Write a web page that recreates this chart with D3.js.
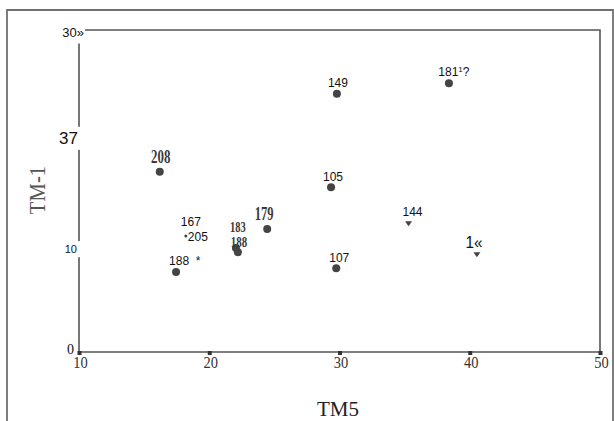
<!DOCTYPE html>
<html><head><meta charset="utf-8">
<script src="https://cdn.jsdelivr.net/npm/d3@7"></script>
<style>html,body{margin:0;padding:0;background:#fff;}svg{display:block;}</style>
</head><body>
<script>
// ---- data ----
const pointIds   = ["208","149","181","105","144","1«","107","179","183","188b","205","188"];
const tm5Values  = [16.2, 29.8, 38.4, 29.35, 35.3, 40.55, 29.75, 24.45, 22.05, 22.2, 18.2, 17.45];
const tm1Values  = [16.8, 24.05, 25.05, 15.35, 12.0, 9.1, 7.8, 11.45, 9.7, 9.3, 10.8, 7.45];
const markerType = ["circle","circle","circle","circle","triangle","triangle","circle","circle","circle","circle","dot","circle"];
const xTickValues = [10, 20, 30, 40, 50];
const xTickLabels = ["10","20","30","40","50"];
const yTickValues = [0, 10, 20, 30];
const yTickLabels = ["0","10","37","30»"];
const xTitle = "TM5";
const yTitle = "TM-1";

// ---- layout / style (not data) ----
const W = 614, H = 421;
const plot = {left: 79, right: 600, top: 30, bottom: 352};
const ink = "#444";

const svg = d3.select("body").append("svg").attr("width", W).attr("height", H);

const x = d3.scaleLinear().domain([10, 50]).range([plot.left, plot.right]);
const y = d3.scaleLinear().domain([0, 30]).range([plot.bottom, plot.top]);

// outer frame
svg.append("path").attr("d", `M7,${H} L7,10 L613,10 L613,${H}`)
  .attr("fill", "none").attr("stroke", "#707070").attr("stroke-width", 1.8);

// plot frame
svg.append("path")
  .attr("d", `M${plot.left},${plot.bottom} L${plot.left},${plot.top} L${plot.right},${plot.top} L${plot.right},${plot.bottom} Z`)
  .attr("fill", "none").attr("stroke", "#555").attr("stroke-width", 1.6);

// x axis ticks and labels
const xAxis = d3.axisBottom(x).tickValues(xTickValues).tickSize(0)
  .tickFormat((d, i) => xTickLabels[i]);
const gx = svg.append("g").attr("transform", `translate(0,${plot.bottom})`).call(xAxis);
gx.select(".domain").remove();
gx.selectAll(".tick text").attr("y", 0).attr("dy", 0)
  .attr("transform", "translate(1,16) scale(0.85,1)")
  .attr("font-family", "Liberation Serif, serif").attr("font-size", 17)
  .attr("fill", "#333");
gx.selectAll(".tick").append("rect").attr("x", -2).attr("y", -1).attr("width", 4).attr("height", 4).attr("fill", "#333");

// y axis labels (with white backing that interrupts the axis line)
const yStyle = [
  {size: 14, family: "Liberation Serif, serif", dx: -5, dy: 1},
  {size: 11, family: "Liberation Sans, Arial, sans-serif", dx: -2, dy: 8},
  {size: 17, family: "Liberation Sans, Arial, sans-serif", dx: -1, dy: 6},
  {size: 13, family: "Liberation Sans, Arial, sans-serif", dx: 5, dy: 6}
];
const yAxis = d3.axisLeft(y).tickValues(yTickValues).tickSize(0)
  .tickFormat((d, i) => yTickLabels[i]);
const gy = svg.append("g").attr("transform", `translate(${plot.left},0)`).call(yAxis);
gy.select(".domain").remove();
gy.selectAll(".tick").each(function(d, i) {
  const g = d3.select(this);
  const s = yStyle[i];
  const t = g.select("text").attr("x", s.dx).attr("dy", 0).attr("y", s.dy)
    .attr("font-family", s.family).attr("font-size", s.size).attr("fill", "#111");
  if (i > 0) {
    const bb = t.node().getBBox();
    g.insert("rect", "text").attr("x", bb.x - 1).attr("y", bb.y - 2)
      .attr("width", bb.width + (i === 3 ? 2 : 4)).attr("height", bb.height + (i === 3 ? 6 : 4)).attr("fill", "#fff");
  }
});

// axis titles
svg.append("text").attr("x", 338).attr("y", 416).attr("text-anchor", "middle")
  .attr("font-family", "Liberation Serif, serif").attr("font-size", 21).attr("fill", "#222")
  .text(xTitle);
svg.append("text").attr("transform", "translate(45,190) rotate(-90) scale(0.9,1)").attr("text-anchor", "middle")
  .attr("font-family", "Liberation Serif, serif").attr("font-size", 23).attr("fill", "#555")
  .text(yTitle);

// points
const pts = pointIds.map((id, i) => ({id, tm5: tm5Values[i], tm1: tm1Values[i], m: markerType[i]}));
const gp = svg.append("g");
gp.selectAll("circle").data(pts.filter(p => p.m !== "triangle")).join("circle")
  .attr("cx", d => x(d.tm5)).attr("cy", d => y(d.tm1))
  .attr("r", d => d.m === "dot" ? 1.5 : 4).attr("fill", ink);
gp.selectAll("path").data(pts.filter(p => p.m === "triangle")).join("path")
  .attr("transform", d => `translate(${x(d.tm5)},${y(d.tm1)})`)
  .attr("d", "M-3.5,-2 L3.5,-2 L0,3 Z").attr("fill", ink);

// point labels (offsets are presentation)
const sans = "Liberation Sans, Arial, sans-serif";
const serif = "Liberation Serif, serif";
const labelStyle = {
  "208":  {dx: 1, dy: -9, size: 19, family: serif, sx: 0.68, w: "bold", anchor: "middle", fill: "#3a3a3a"},
  "149":  {dx: 1, dy: -7, size: 12, family: sans, sx: 1, w: "normal", anchor: "middle", fill: "#111"},
  "181":  {dx: 5, dy: -7, size: 12, family: sans, sx: 1, w: "normal", anchor: "middle", fill: "#111"},
  "105":  {dx: 2, dy: -6, size: 12, family: sans, sx: 1, w: "normal", anchor: "middle", fill: "#111"},
  "144":  {dx: 4, dy: -7, size: 12, family: sans, sx: 1, w: "normal", anchor: "middle", fill: "#111"},
  "1«":   {dx: -3, dy: -6, size: 17, family: sans, sx: 0.9, w: "normal", anchor: "middle", fill: "#111"},
  "107":  {dx: 3, dy: -6, size: 12, family: sans, sx: 1, w: "normal", anchor: "middle", fill: "#111"},
  "179":  {dx: -3, dy: -9, size: 19, family: serif, sx: 0.66, w: "bold", anchor: "middle", fill: "#3a3a3a"},
  "183":  {dx: 2, dy: -16, size: 14, family: serif, sx: 0.75, w: "bold", anchor: "middle", fill: "#3a3a3a"},
  "188b": {dx: 1, dy: -5, size: 14, family: serif, sx: 0.78, w: "bold", anchor: "middle", fill: "#3a3a3a"},
  "205":  {dx: 2, dy: 5, size: 12, family: sans, sx: 1, w: "normal", anchor: "start", fill: "#111"},
  "188":  {dx: -7, dy: -7, size: 12, family: sans, sx: 1, w: "normal", anchor: "start", fill: "#111"}
};
const labelText = {"183": "183", "188b": "188", "188": "188  *"};
gp.selectAll("text.lbl").data(pts).join("text").attr("class", "lbl")
  .attr("transform", d => `translate(${x(d.tm5) + labelStyle[d.id].dx},${y(d.tm1) + labelStyle[d.id].dy}) scale(${labelStyle[d.id].sx},1)`)
  .attr("text-anchor", d => labelStyle[d.id].anchor)
  .attr("font-family", d => labelStyle[d.id].family)
  .attr("font-size", d => labelStyle[d.id].size)
  .attr("font-weight", d => labelStyle[d.id].w)
  .attr("fill", d => labelStyle[d.id].fill)
  .attr("xml:space", "preserve")
  .each(function(d) {
    const t = d3.select(this);
    if (d.id === "181") {
      t.append("tspan").text("181");
      t.append("tspan").attr("dy", -4).attr("font-size", 8).text("1");
      t.append("tspan").attr("dy", 4).text("?");
    } else {
      t.text(labelText[d.id] || d.id);
    }
  });
// extra label "167" attached above point 205
const p205 = pts.find(p => p.id === "205");
gp.append("text").attr("x", x(p205.tm5) - 5).attr("y", y(p205.tm1) - 10)
  .attr("font-family", sans).attr("font-size", 12).attr("fill", "#111").text("167");
</script>
</body></html>
